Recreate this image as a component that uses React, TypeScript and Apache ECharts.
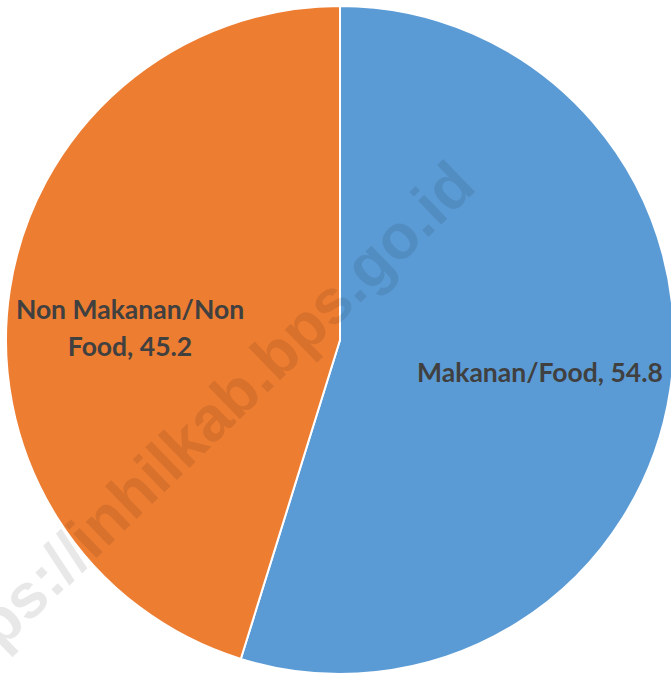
import React, { useEffect, useRef } from "react";
import * as echarts from "echarts";

const categories = ["Makanan/Food", "Non Makanan/Non Food"];
const values = [54.8, 45.2];
const labelTexts = ["Makanan/Food, 54.8", "Non Makanan/Non\nFood, 45.2"];
const colors = ["#5B9BD5", "#ED7D31"];
const watermark = "https://inhilkab.bps.go.id";

export default function App() {
  const ref = useRef<HTMLDivElement>(null);
  useEffect(() => {
    if (!ref.current) return;
    const chart = echarts.init(ref.current, null, { renderer: "svg" });
    const labelPos = [
      { x: 540, y: 372 },
      { x: 130, y: 327 },
    ];
    chart.setOption({
      animation: false,
      backgroundColor: "#ffffff",
      series: [
        {
          type: "pie",
          center: [340, 340],
          radius: 334,
          startAngle: 90,
          clockwise: true,
          silent: true,
          itemStyle: { borderColor: "#ffffff", borderWidth: 2 },
          label: {
            show: true,
            position: "inside",
            formatter: (p: any) => labelTexts[p.dataIndex],
            color: "#404040",
            fontFamily: "Lato",
            fontWeight: "bold",
            fontSize: 26.5,
            lineHeight: 37,
            align: "center",
          },
          labelLayout: (p: any) => ({
            x: labelPos[p.dataIndex].x,
            y: labelPos[p.dataIndex].y,
            align: "center",
            verticalAlign: "middle",
          }),
          data: categories.map((c, i) => ({
            name: c,
            value: values[i],
            itemStyle: { color: colors[i] },
          })),
        },
      ],
      graphic: [
        {
          type: "text",
          x: 195,
          y: 432,
          rotation: (44 * Math.PI) / 180,
          z: 100,
          silent: true,
          style: {
            text: watermark,
            fontFamily: "Liberation Sans",
            fontWeight: "bold",
            fontSize: 63,
            fill: "rgba(0,0,0,0.09)",
            align: "center",
            verticalAlign: "middle",
          },
        },
      ],
    });
    return () => chart.dispose();
  }, []);
  return (
    <div
      ref={ref}
      style={{ position: "absolute", left: 0, top: 0, width: 671, height: 675 }}
    />
  );
}
